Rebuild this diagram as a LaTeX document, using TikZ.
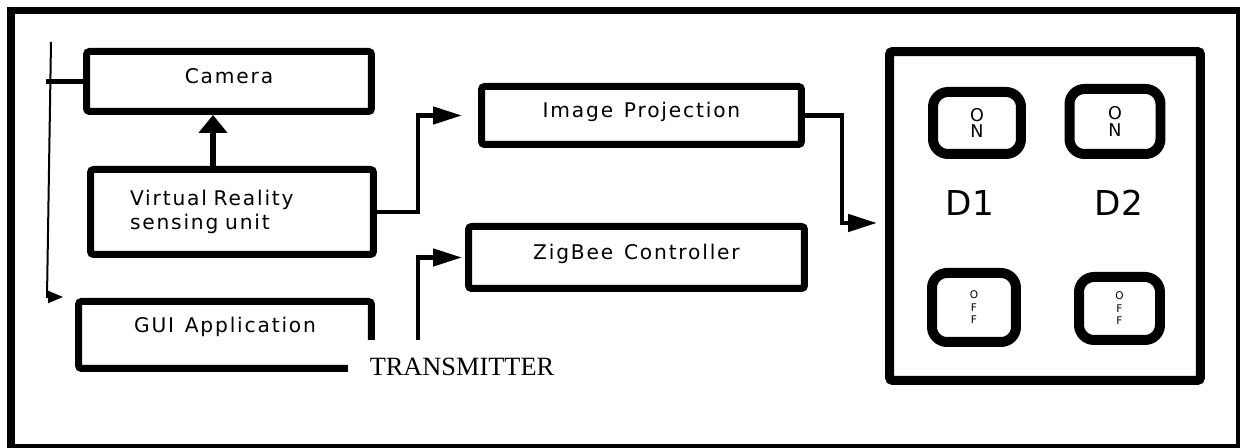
\documentclass[tikz,border=0pt]{standalone}
\usepackage{fontspec}
\setmainfont{Liberation Serif}
\newfontfamily\blockfont[LetterSpace=9,WordSpace=1.3]{DejaVu Sans}
\newfontfamily\keyfont{DejaVu Sans}
\usetikzlibrary{arrows.meta}

\begin{document}
\begin{tikzpicture}[x=0.02cm,y=0.02cm,
    block/.style={draw,line width=0.14cm,rounded corners=0.06cm,inner sep=0pt,
      font=\blockfont\fontsize{11.5}{13.6}\selectfont},
    oneline/.style={text height=0.3cm,text depth=0.2cm},
    switchkey/.style={draw,line width=0.2cm,rounded corners=0.3cm,inner sep=0pt,align=center},
    flow/.style={line width=0.09cm,-{Triangle[length=0.58cm,width=0.34cm]}},
    thinflow/.style={line width=0.04cm,-{Triangle[length=0.3cm,width=0.24cm]}}]
    \useasboundingbox (0,0) rectangle (1242,448);

    % outer frame
    \fill (7,0) rectangle (15,441);
    \fill (7,434) rectangle (1240,441);
    \fill (1236,0) rectangle (1240,441);
    \fill (7,0) rectangle (1240,4);

    % blocks
    \node[block,oneline,minimum width=5.7cm,minimum height=1.2cm] (camera) at (229,366.5) {Camera};
    \node[block,minimum width=5.66cm,minimum height=1.7cm,text width=4.08cm,align=left] (vr) at (232,236)
      {Virtual Reality\\sensing unit};
    \node[block,oneline,minimum width=6.4cm,minimum height=1.16cm] (imgproj) at (641.5,332.5) {Image Projection};
    \node[block,oneline,minimum width=6.72cm,minimum height=1.24cm] (zigbee) at (636.5,190.5) {ZigBee Controller};

    % open GUI block
    \node[inner sep=0pt,outer sep=0pt,minimum width=5.86cm,minimum height=1.34cm,
      font=\blockfont\fontsize{11.5}{13.6}\selectfont,text height=0.3cm,text depth=0.4cm] (gui) at (225,113) {GUI Application};
    \draw[line width=0.14cm,rounded corners=0.06cm]
      ([xshift=-0.47cm]gui.south east) -- (gui.south west) -- (gui.north west) -- (gui.north east) -- ([yshift=-0.1cm]gui.east);

    \node[anchor=base,font=\fontsize{15}{18}\selectfont] (transmitter) at (462,72) {TRANSMITTER};

    % device panel
    \node[draw,line width=0.18cm,rounded corners=0.06cm,minimum width=6.22cm,minimum height=6.58cm] (panel) at (1045,232) {};
    \node[switchkey,minimum width=1.76cm,minimum height=1.24cm,font=\keyfont\fontsize{10}{9.6}\selectfont] (d1on) at (977,325) {O\\N};
    \node[switchkey,minimum width=1.82cm,minimum height=1.3cm,font=\keyfont\fontsize{10}{9.6}\selectfont] (d2on) at (1115,326.5) {O\\N};
    \node[switchkey,minimum width=1.68cm,minimum height=1.38cm,font=\keyfont\fontsize{6}{7.1}\selectfont] (d1off) at (974,140.5) {O\\F\\F};
    \node[switchkey,minimum width=1.62cm,minimum height=1.26cm,font=\keyfont\fontsize{6}{7.1}\selectfont] (d2off) at (1119.5,139.5) {O\\F\\F};
    \node[font=\keyfont\fontsize{19.5}{23}\selectfont] (d1) at (970,245) {D1};
    \node[font=\keyfont\fontsize{19.5}{23}\selectfont] (d2) at (1119,245) {D2};

    % connections
    \draw[line width=0.11cm,-{Triangle[length=0.36cm,width=0.56cm]}]
      ([xshift=-0.38cm]vr.north) -- ([xshift=-0.38cm]vr.north |- camera.south);
    \draw[flow,shorten >=0.32cm] (vr.east) -- ++(41,0) |- (imgproj.west);
    \coordinate (txfoot) at (418,108);
    \draw[flow,shorten >=0.06cm] (txfoot) |- (zigbee.west);
    \draw[flow,shorten >=0.16cm] (imgproj.east) -- ++(37,0) |- ([yshift=-0.14cm]panel.west);

    \draw[line width=0.1cm] (camera.west) -- ++(-37,0);
    \coordinate (feedtop) at (51,406);
    \coordinate (feedbend) at (47,151);
    \draw[thinflow,shorten >=0.31cm] (feedtop) -- (feedbend) -- (feedbend -| gui.west);
  \end{tikzpicture}
\end{document}
